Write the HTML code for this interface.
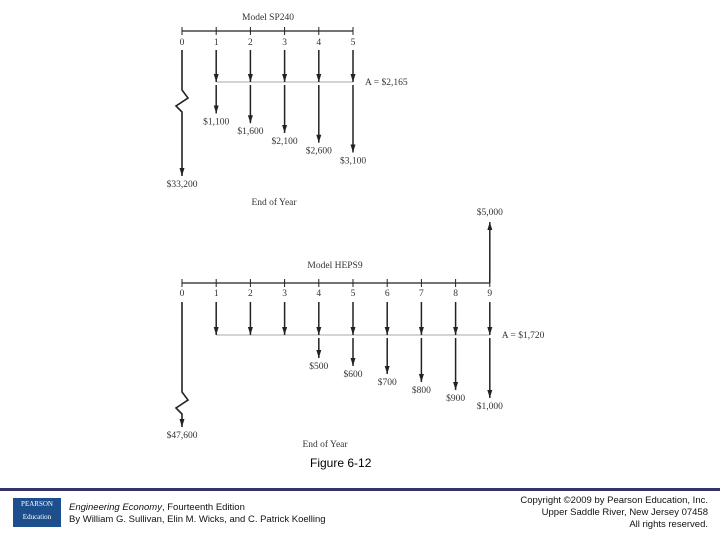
<!DOCTYPE html>
<html><head><meta charset="utf-8"><style>
body{margin:0;width:720px;height:540px;background:#fff;position:relative;overflow:hidden;font-family:"Liberation Sans",sans-serif}
svg text{font-family:"Liberation Serif",serif;font-size:9.5px;fill:#333}
.ft{position:absolute;font-size:9.5px;color:#111;line-height:12px}
</style></head><body>
<svg id="chart" width="720" height="480" style="position:absolute;left:0;top:0">
<defs><marker id="ah" markerWidth="9" markerHeight="6" refX="8" refY="2.5" orient="auto" markerUnits="userSpaceOnUse"><path d="M0,0 L8,2.5 L0,5 Z" fill="#222"/></marker></defs>
<g id="top"></g><g id="bot"></g>
</svg>
<div style="position:absolute;left:310px;top:456px;font-size:12px">Figure 6-12</div>
<div style="position:absolute;left:0;top:488px;width:720px;height:3px;background:#333366"></div>
<div style="position:absolute;left:13px;top:498px;width:48px;height:29px;background:#1d4f8c;color:#fff;font-size:7px;text-align:center;font-family:'Liberation Serif',serif;line-height:13px">PEARSON<br>Education</div>
<div class="ft" style="left:69px;top:502px"><i>Engineering Economy</i>, Fourteenth Edition<br>By William G. Sullivan, Elin M. Wicks, and C. Patrick Koelling</div>
<div class="ft" style="right:12px;top:495px;text-align:right">Copyright ©2009 by Pearson Education, Inc.<br>Upper Saddle River, New Jersey 07458<br>All rights reserved.</div>
<script>
const topYears=[0,1,2,3,4,5];
const topAmounts=[33200,1100,1600,2100,2600,3100];
const topA="A = $2,165";
const botYears=[0,1,2,3,4,5,6,7,8,9];
const botAmounts=[47600,0,0,0,500,600,700,800,900,1000];
const botA="A = $1,720";
const botSalvage=5000;
const NS="http://www.w3.org/2000/svg";
function mk(g,t,a,txt){const e=document.createElementNS(NS,t);for(const k in a)e.setAttribute(k,a[k]);if(txt!==undefined)e.textContent=txt;g.appendChild(e);return e;}
function fmt(v){return "$"+v.toLocaleString("en-US");}
function diagram(gid,years,amts,A,o){
 const g=document.getElementById(gid);
 const x=i=>o.x0+i*o.dx;
 const n=years.length-1;
 let e=mk(g,"line",{x1:x(0),y1:o.ay,x2:x(n),y2:o.ay,stroke:"#222","stroke-width":1.2});
 
 e=mk(g,"text",{x:o.titleX,y:o.titleY,"text-anchor":"middle"},o.title);
 
 years.forEach((yr,i)=>{
  mk(g,"line",{x1:x(i),y1:o.ay-4,x2:x(i),y2:o.ay+4,stroke:"#222"});
  let t=mk(g,"text",{x:x(i),y:o.labY,"text-anchor":"middle"},yr);
  
 });
 e=mk(g,"line",{x1:x(1),y1:o.aLine,x2:x(n),y2:o.aLine,stroke:"#aaa","stroke-width":1});
 
 e=mk(g,"text",{x:x(n)+12,y:o.aLine+3},A);
 
 const s=o.start;
 amts.forEach((v,i)=>{
  if(i===0){
   const end=o.initEnd, z=o.zig;
   let p=mk(g,"path",{d:`M${x(0)},${s} L${x(0)},${z} L${x(0)+6},${z+8} L${x(0)-6},${z+16} L${x(0)},${z+22} L${x(0)},${end}`,fill:"none",stroke:"#222","stroke-width":1.6,"marker-end":"url(#ah)"});
   
   let t=mk(g,"text",{x:x(0),y:end+11,"text-anchor":"middle"},fmt(v));
   
   return;
  }
  const a1=mk(g,"line",{x1:x(i),y1:s,x2:x(i),y2:o.aLine,stroke:"#222","stroke-width":1.5,"marker-end":"url(#ah)"});
  
  if(v>0){
   const end=o.b+v*o.k;
   const a2=mk(g,"line",{x1:x(i),y1:o.aLine+3,x2:x(i),y2:end,stroke:"#222","stroke-width":1.5,"marker-end":"url(#ah)"});
   
   const t=mk(g,"text",{x:x(i),y:end+11,"text-anchor":"middle"},fmt(v));
   
  }
 });
 e=mk(g,"text",{x:o.eoyX,y:o.eoyY,"text-anchor":"middle"},"End of Year");
 
 return x;
}
diagram("top",topYears,topAmounts,topA,{x0:182,dx:34.2,ay:31,titleX:268,titleY:20,labY:45,start:50,aLine:82,b:92,k:0.0195,initEnd:176,zig:90,title:"Model SP240",eoyX:274,eoyY:205});
const bx=diagram("bot",botYears,botAmounts,botA,{x0:182,dx:34.2,ay:283,titleX:335,titleY:268,labY:296,start:302,aLine:335,b:318,k:0.08,initEnd:427,zig:392,title:"Model HEPS9",eoyX:325,eoyY:447});
(function(){const g=document.getElementById("bot");
 const s=mk(g,"line",{x1:bx(9),y1:283,x2:bx(9),y2:283-botSalvage*0.0122,stroke:"#222","stroke-width":1.5,"marker-end":"url(#ah)"});
 
 const t=mk(g,"text",{x:bx(9),y:283-botSalvage*0.0122-7,"text-anchor":"middle"},fmt(botSalvage));
 })();
</script>
</body></html>
